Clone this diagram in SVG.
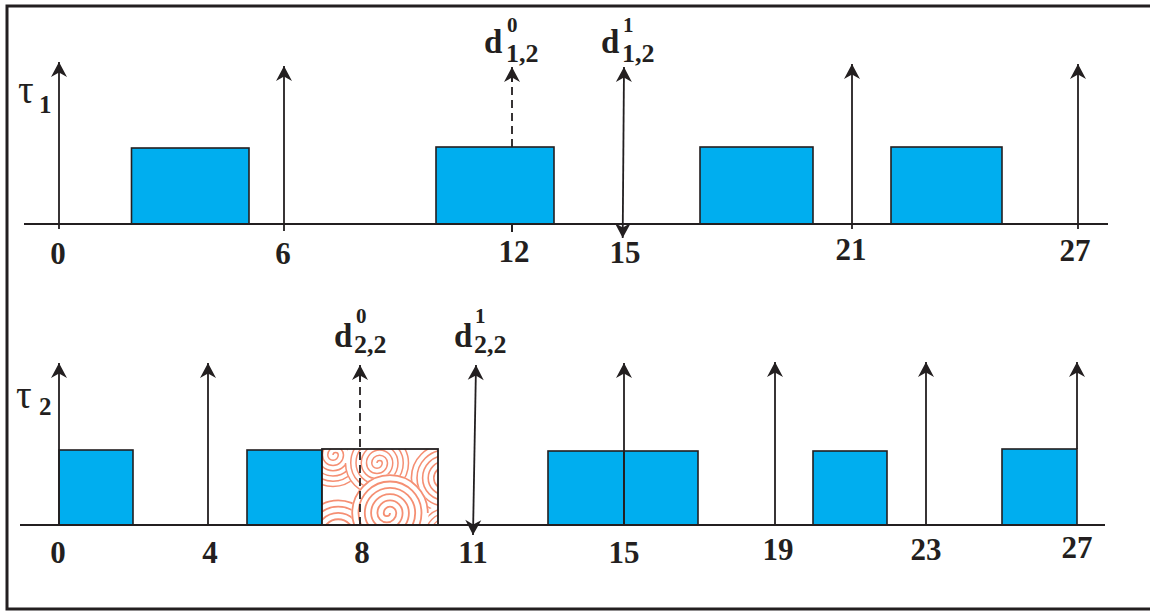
<svg xmlns="http://www.w3.org/2000/svg" width="1150" height="612" viewBox="0 0 1150 612">
<style>
.ax{stroke:#231F20;stroke-width:2;fill:none}
.ar{stroke:#231F20;stroke-width:1.8;fill:none;marker-end:url(#ah)}
.dar{stroke:#231F20;stroke-width:1.8;fill:none;marker-end:url(#ah);marker-start:url(#ah)}
.dash{stroke:#231F20;stroke-width:1.8;fill:none;stroke-dasharray:8 5}
.job{fill:#00AEEF;stroke:#231F20;stroke-width:1.6}
.num{font-weight:bold;font-size:31px;fill:#231F20;text-anchor:middle}
.lab{font-weight:bold;fill:#231F20}
.tau{font-size:39px;fill:#231F20}
</style>
<defs>
<marker id="ah" viewBox="-16 -9 17 18" refX="0" refY="0" markerWidth="17" markerHeight="18" markerUnits="userSpaceOnUse" orient="auto-start-reverse">
<path d="M0,0 L-15,-8 L-10.5,0 L-15,8 Z" fill="#231F20"/>
</marker>
<g id="sp">
<circle r="43" fill="#fff"/>
<path d="M0 0 a3.5 3.5 0 0 1 7 0 a7 7 0 0 1 -14 0 a10.5 10.5 0 0 1 21 0 a14 14 0 0 1 -28 0 a17.5 17.5 0 0 1 35 0 a21 21 0 0 1 -42 0 a24.5 24.5 0 0 1 49 0 a28 28 0 0 1 -56 0 a31.5 31.5 0 0 1 63 0 a35 35 0 0 1 -70 0 a38.5 38.5 0 0 1 77 0 a42 42 0 0 1 -84 0" fill="none" stroke="#F58F73" stroke-width="2"/>
</g>
<clipPath id="pc"><rect x="322" y="449" width="116" height="76"/></clipPath>
</defs>
<rect x="0" y="0" width="1150" height="612" fill="#fff"/>
<path id="frame" d="M1152 6 H7 V609 H1152" fill="none" stroke="#231F20" stroke-width="3"/>

<g font-family="'Liberation Serif', 'Times New Roman', Tinos, Times, serif">
<g id="task1">
<g id="t1-jobs">
<rect class="job" x="131.5" y="148" width="117.5" height="76"/>
<rect class="job" x="436" y="147" width="118" height="77"/>
<rect class="job" x="700" y="147" width="113" height="77"/>
<rect class="job" x="891" y="147" width="111" height="77"/>
</g>
<text class="tau" x="18" y="103">τ</text>
<text class="lab" x="39" y="113" font-size="25">1</text>
</g>

<g id="task2">
<g id="t2-jobs">
<rect class="job" x="59" y="450" width="74" height="75"/>
<rect class="job" x="247" y="450" width="75" height="75"/>
<g id="t2-hatched">
<rect x="322" y="449" width="116" height="76" fill="#fff"/>
<g clip-path="url(#pc)">
<use href="#sp" transform="translate(333,455) scale(0.75)"/>
<use href="#sp" transform="translate(445,478) rotate(90) scale(0.8)"/>
<use href="#sp" transform="translate(335,535) scale(0.9)"/>
<use href="#sp" transform="translate(445,535) scale(0.7)"/>
<use href="#sp" transform="translate(377,463) scale(0.75)"/>
<use href="#sp" transform="translate(390,513) rotate(180) scale(0.9)"/>
</g>
<rect x="322" y="449" width="116" height="76" fill="none" stroke="#231F20" stroke-width="1.8"/>
</g>
<rect class="job" x="548" y="451" width="76" height="74"/>
<rect class="job" x="624" y="451" width="74" height="74"/>
<rect class="job" x="813" y="451" width="74" height="74"/>
<rect class="job" x="1002" y="449" width="75" height="76"/>
</g>
<text class="tau" x="16" y="408">τ</text>
<text class="lab" x="39" y="415" font-size="25">2</text>
</g>

<g id="connectors">
<line class="ax" x1="24" y1="224" x2="1108" y2="224"/>
<line class="ar" x1="59" y1="229" x2="59" y2="62"/>
<line class="ar" x1="284" y1="231" x2="284" y2="66"/>
<line class="dash" x1="512" y1="147" x2="512" y2="76"/>
<line class="ar" x1="512" y1="82" x2="512" y2="67"/>
<line class="ax" x1="512" y1="225" x2="512" y2="232" stroke-width="1.8"/>
<line class="dar" x1="622.7" y1="238" x2="624" y2="67"/>
<line class="ar" x1="852" y1="229" x2="852" y2="64"/>
<line class="ar" x1="1078" y1="229" x2="1078" y2="64"/>

<line class="ax" x1="20" y1="525" x2="1105" y2="525"/>
<line class="ar" x1="59" y1="525" x2="59" y2="363"/>
<line class="ar" x1="208" y1="525" x2="208" y2="363"/>
<line class="dash" x1="360" y1="525" x2="360" y2="372"/>
<line class="ar" x1="360" y1="380" x2="360" y2="365"/>
<line class="dar" x1="473" y1="535" x2="476" y2="365"/>
<line class="ar" x1="624" y1="525" x2="624" y2="363" stroke-width="2.2"/>
<line class="ar" x1="775" y1="525" x2="775" y2="362"/>
<line class="ar" x1="926" y1="525" x2="926" y2="362"/>
<line class="ar" x1="1077" y1="449" x2="1077" y2="362"/>
</g>

<g id="labels-top">
<text class="num" x="58" y="264">0</text>
<text class="num" x="283" y="264">6</text>
<text class="num" x="514" y="262">12</text>
<text class="num" x="625" y="263">15</text>
<text class="num" x="851" y="260">21</text>
<text class="num" x="1075" y="261">27</text>
<g id="d12-0"><text class="lab" x="484" y="53" font-size="33">d</text><text class="lab" x="507" y="32" font-size="21">0</text><text class="lab" x="506" y="62" font-size="26">1,2</text></g>
<g id="d12-1"><text class="lab" x="601" y="53" font-size="33">d</text><text class="lab" x="623" y="32" font-size="21">1</text><text class="lab" x="622" y="62" font-size="26">1,2</text></g>
</g>

<g id="labels-bottom">
<text class="num" x="58" y="563">0</text>
<text class="num" x="210" y="563">4</text>
<text class="num" x="362" y="563">8</text>
<text class="num" x="473" y="563">11</text>
<text class="num" x="624" y="563">15</text>
<text class="num" x="778" y="560">19</text>
<text class="num" x="926" y="560">23</text>
<text class="num" x="1077" y="558">27</text>
<g id="d22-0"><text class="lab" x="334" y="347" font-size="33">d</text><text class="lab" x="356" y="323" font-size="21">0</text><text class="lab" x="354" y="353" font-size="26">2,2</text></g>
<g id="d22-1"><text class="lab" x="454" y="347" font-size="33">d</text><text class="lab" x="475" y="323" font-size="21">1</text><text class="lab" x="474" y="353" font-size="26">2,2</text></g>
</g>
</g>
</svg>
